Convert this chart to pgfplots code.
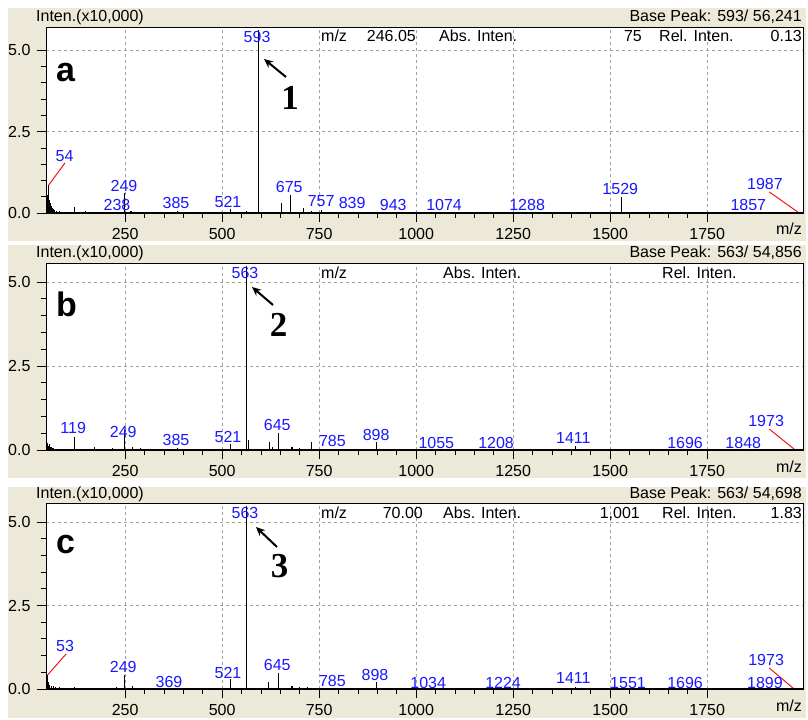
\documentclass[border=0pt]{standalone}
\usepackage{fontspec}
\setmainfont{Liberation Sans}
\newfontfamily\serifb{Liberation Serif}
\usepackage{pgfplots}
\pgfplotsset{compat=1.18}
\usetikzlibrary{arrows.meta}
\definecolor{beige}{RGB}{236,233,216}
\definecolor{gridgray}{RGB}{160,160,160}
\definecolor{lblue}{RGB}{25,25,255}
\definecolor{lred}{RGB}{240,25,25}
\newcommand{\fs}{\fontsize{16}{18}\selectfont}
\newcommand{\lb}[3]{\node[lblue,font=\fs,inner sep=0pt] at (axis cs:#1,#2) {#3};}
\pgfplotsset{msstyle/.style={
  scale only axis, width=757pt, clip=false,
  xmin=46, xmax=1997, ymin=0,
  axis line style={line width=0.9pt},
  xtick={250,500,...,1750}, ytick={0,2.5,5},
  minor x tick num=4, minor y tick num=4,
  tick pos=left, tick align=outside,
  major tick length=9pt, minor tick length=5pt,
  xmajorgrids=true, ymajorgrids=true,
  major grid style={draw=gridgray, dash pattern=on 3pt off 3pt, line width=0.9pt},
  tick style={black, line width=0.9pt},
  ticklabel style={font=\fs},
  /pgf/number format/assume math mode=true,
  /pgf/number format/1000 sep={},
  scaled ticks=false,
  y tick label style={/pgf/number format/.cd, fixed, fixed zerofill, precision=1, /tikz/.cd, xshift=-3pt},
  x tick label style={yshift=-3pt},
}}
\newcommand{\pp}[2]{(#1pt,718pt-#2pt)}
\tikzset{spec/.style={ycomb, black, line width=1.1pt, mark=none}}
\begin{document}
\begin{tikzpicture}
\fill[white] (0,0) rectangle (808pt,718pt);
\fill[beige] \pp{8}{8} rectangle \pp{806}{241};
\fill[beige] \pp{8}{245} rectangle \pp{806}{478};
\fill[beige] \pp{8}{487} rectangle \pp{806}{718};
\fill[white] \pp{46}{27} rectangle \pp{803}{213};
\fill[white] \pp{46}{263} rectangle \pp{803}{450};
\fill[white] \pp{46}{503} rectangle \pp{803}{689};

% ---------------- panel a
\begin{axis}[msstyle, at={(46pt,505pt)}, anchor=south west, height=186pt, ymax=5.72]
\addplot[spec] coordinates {(49,0.45)(51,0.55)(53,0.86)(55,0.40)(57,0.30)(59,0.22)(62,0.15)(65,0.12)(69,0.09)(74,0.07)(80,0.05)(88,0.04)(97,0.03)(106,0.03)(119,0.19)(147,0.06)(190,0.03)(233,0.04)(249,0.60)(265,0.05)(300,0.02)(385,0.05)(450,0.02)(521,0.12)(563,0.06)(593,5.62)(654,0.32)(675,0.56)(709,0.16)(731,0.06)(757,0.10)(839,0.03)(943,0.03)(1074,0.02)(1288,0.02)(1529,0.49)(1857,0.02)(1987,0.01)};
\draw[lred, line width=1pt] (axis cs:53,0.86) -- (axis cs:95,1.54);
\draw[lred, line width=1pt] (axis cs:1910,0.65) -- (axis cs:1987,0);
\draw[line width=2.4pt] (rel axis cs:0,0) -- (rel axis cs:1,0);
\lb{590}{5.42}{593}
\lb{94}{1.75}{54}
\lb{247}{0.83}{249}
\lb{229}{0.25}{238}
\lb{381}{0.31}{385}
\lb{515}{0.34}{521}
\lb{673}{0.80}{675}
\lb{755}{0.37}{757}
\lb{835}{0.31}{839}
\lb{941}{0.25}{943}
\lb{1072}{0.25}{1074}
\lb{1286}{0.25}{1288}
\lb{1526}{0.74}{1529}
\lb{1856}{0.25}{1857}
\lb{1899}{0.89}{1987}
\end{axis}

% ---------------- panel b
\begin{axis}[msstyle, at={(46pt,268pt)}, anchor=south west, height=187pt, ymax=5.57]
\addplot[spec] coordinates {(48,0.15)(50,0.20)(53,0.12)(56,0.18)(59,0.10)(64,0.06)(70,0.04)(119,0.40)(172,0.08)(218,0.07)(249,0.60)(270,0.10)(290,0.05)(385,0.05)(521,0.17)(563,5.49)(569,0.30)(621,0.24)(630,0.10)(645,0.50)(680,0.10)(700,0.06)(731,0.24)(785,0.02)(898,0.23)(1055,0.02)(1208,0.02)(1411,0.12)(1696,0.01)(1848,0.01)(1973,0.01)};
\draw[lred, line width=1pt] (axis cs:1910,0.625) -- (axis cs:1977,0);
\draw[line width=2.4pt] (rel axis cs:0,0) -- (rel axis cs:1,0);
\lb{559}{5.27}{563}
\lb{116}{0.65}{119}
\lb{245}{0.54}{249}
\lb{381}{0.30}{385}
\lb{515}{0.39}{521}
\lb{642}{0.74}{645}
\lb{784}{0.27}{785}
\lb{897}{0.45}{898}
\lb{1052}{0.21}{1055}
\lb{1206}{0.21}{1208}
\lb{1405}{0.36}{1411}
\lb{1693}{0.21}{1696}
\lb{1843}{0.21}{1848}
\lb{1902}{0.86}{1973}
\end{axis}

% ---------------- panel c
\begin{axis}[msstyle, at={(46pt,29pt)}, anchor=south west, height=186pt, ymax=5.57]
\addplot[spec] coordinates {(48,0.15)(50,0.42)(53,0.20)(56,0.12)(60,0.10)(65,0.08)(70,0.06)(80,0.05)(100,0.04)(119,0.05)(228,0.05)(249,0.42)(268,0.10)(369,0.02)(521,0.30)(563,5.47)(619,0.22)(645,0.47)(680,0.08)(700,0.05)(720,0.06)(785,0.02)(898,0.22)(1034,0.01)(1224,0.01)(1411,0.07)(1551,0.01)(1973,0.01)};
\draw[lred, line width=1pt] (axis cs:50,0.42) -- (axis cs:98,1.05);
\draw[lred, line width=1pt] (axis cs:1910,0.63) -- (axis cs:1974,0);
\draw[line width=2.4pt] (rel axis cs:0,0) -- (rel axis cs:1,0);
\lb{559}{5.27}{563}
\lb{95}{1.29}{53}
\lb{245}{0.66}{249}
\lb{363}{0.21}{369}
\lb{515}{0.48}{521}
\lb{642}{0.72}{645}
\lb{784}{0.24}{785}
\lb{894}{0.42}{898}
\lb{1031}{0.18}{1034}
\lb{1224}{0.18}{1224}
\lb{1405}{0.33}{1411}
\lb{1546}{0.18}{1551}
\lb{1693}{0.18}{1696}
\lb{1899}{0.18}{1899}
\lb{1902}{0.87}{1973}
\end{axis}

% ---------------- headers and annotations
\begin{scope}[every node/.style={font=\fs, inner sep=0pt}]
% panel a
\node[anchor=base west] at \pp{36}{22} {Inten.(x10,000)};
\node[anchor=base east] at \pp{802}{22} {Base Peak: 593/ 56,241};
\node[anchor=base west] at \pp{321}{42} {m/z};
\node[anchor=base east] at \pp{416}{42} {246.05};
\node[anchor=base west] at \pp{439}{42} {Abs. Inten.};
\node[anchor=base east] at \pp{642}{42} {75};
\node[anchor=base west] at \pp{659}{42} {Rel. Inten.};
\node[anchor=base east] at \pp{802}{42} {0.13};
\node[anchor=base east] at \pp{802}{235} {m/z};
% panel b
\node[anchor=base west] at \pp{36}{258} {Inten.(x10,000)};
\node[anchor=base east] at \pp{802}{258} {Base Peak: 563/ 54,856};
\node[anchor=base west] at \pp{321}{279} {m/z};
\node[anchor=base west] at \pp{443}{279} {Abs. Inten.};
\node[anchor=base west] at \pp{662}{279} {Rel. Inten.};
\node[anchor=base east] at \pp{802}{472} {m/z};
% panel c
\node[anchor=base west] at \pp{36}{498} {Inten.(x10,000)};
\node[anchor=base east] at \pp{802}{498} {Base Peak: 563/ 54,698};
\node[anchor=base west] at \pp{321}{518} {m/z};
\node[anchor=base east] at \pp{423}{518} {70.00};
\node[anchor=base west] at \pp{443}{518} {Abs. Inten.};
\node[anchor=base east] at \pp{640}{518} {1,001};
\node[anchor=base west] at \pp{662}{518} {Rel. Inten.};
\node[anchor=base east] at \pp{802}{518} {1.83};
\node[anchor=base east] at \pp{802}{711} {m/z};
\end{scope}
% panel letters
\node[anchor=base west, inner sep=0pt, font=\fontsize{34}{36}\selectfont\bfseries] at \pp{56}{82} {a};
\node[anchor=base west, inner sep=0pt, font=\fontsize{34}{36}\selectfont\bfseries] at \pp{56}{317} {b};
\node[anchor=base west, inner sep=0pt, font=\fontsize{34}{36}\selectfont\bfseries] at \pp{56}{553} {c};
% numbers and arrows
\node[anchor=base, inner sep=0pt, font=\fontsize{35}{37}\selectfont\serifb\bfseries] at \pp{290}{110} {1};
\node[anchor=base, inner sep=0pt, font=\fontsize{35}{37}\selectfont\serifb\bfseries] at \pp{278.5}{337} {2};
\node[anchor=base, inner sep=0pt, font=\fontsize{35}{37}\selectfont\serifb\bfseries] at \pp{279.5}{577} {3};
\draw[line width=2pt, -{Stealth[length=9pt,width=8pt]}] \pp{286}{77} -- \pp{264}{59};
\draw[line width=2pt, -{Stealth[length=9pt,width=8pt]}] \pp{273}{305} -- \pp{252}{287};
\draw[line width=2pt, -{Stealth[length=9pt,width=8pt]}] \pp{277}{547} -- \pp{256}{527};
\end{tikzpicture}
\end{document}
